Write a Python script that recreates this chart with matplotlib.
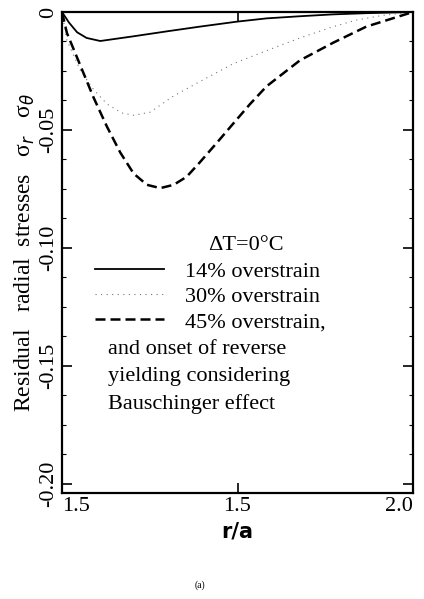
import matplotlib
matplotlib.use("Agg")
import matplotlib.pyplot as plt
from matplotlib.ticker import MultipleLocator

# ---- data ----
r_14 = [1.0, 1.02, 1.043, 1.07, 1.109, 1.204, 1.299, 1.393, 1.498, 1.583, 1.678, 1.773, 1.867, 2.0]
s_14 = [0.0, -0.0045, -0.0086, -0.0110, -0.0123, -0.0103, -0.0082, -0.0062, -0.0041, -0.0027, -0.0018, -0.0010, -0.0005, 0.0]

r_30 = [1.0, 1.014, 1.052, 1.090, 1.128, 1.17, 1.204, 1.251, 1.318, 1.393, 1.488, 1.583, 1.678, 1.773, 1.839, 1.915, 2.0]
s_30 = [0.0, -0.012, -0.0247, -0.0329, -0.039, -0.0428, -0.0438, -0.0425, -0.0356, -0.0295, -0.0219, -0.0164, -0.011, -0.0062, -0.0034, -0.0014, 0.0]

r_45 = [1.0, 1.014, 1.052, 1.090, 1.128, 1.166, 1.204, 1.242, 1.280, 1.318, 1.355, 1.393, 1.441, 1.488, 1.536, 1.583, 1.678, 1.773, 1.867, 2.0]
s_45 = [0.0, -0.0089, -0.0226, -0.0363, -0.0486, -0.0596, -0.0685, -0.0733, -0.0747, -0.0733, -0.0699, -0.0637, -0.0555, -0.0473, -0.039, -0.0315, -0.0205, -0.013, -0.0062, 0.0]

x_ticks = [1.0, 1.5, 2.0]
x_tick_labels = ["1.5", "1.5", "2.0"]
y_ticks = [0.0, -0.05, -0.10, -0.15, -0.20]
y_tick_labels = ["0", "-0.05", "-0.10", "-0.15", "-0.20"]

legend_title = "ΔT=0°C"
legend_labels = ["14% overstrain", "30% overstrain", "45% overstrain,"]
legend_extra = ["and onset of reverse", "yielding considering", "Bauschinger effect"]

serif = ["Liberation Serif", "DejaVu Serif"]

fig = plt.figure(figsize=(4.24, 5.99), dpi=100)
ax = fig.add_axes([62/424, 1-493/599, (413-62)/424, (493-12)/599])

l1, = ax.plot(r_14, s_14, color="black", lw=1.3)
l2, = ax.plot(r_30, s_30, color="#777777", lw=0.8, linestyle=(0, (1, 4)))
l3, = ax.plot(r_45, s_45, color="black", lw=1.8, linestyle=(0, (4, 2)))

ax.set_xlim(1.0, 2.0)
ax.set_ylim(-0.204, 0.0)

ax.set_xticks(x_ticks)
ax.set_xticklabels(x_tick_labels, fontsize=16, family=serif)
ax.set_yticks(y_ticks)
ax.set_yticklabels(y_tick_labels, fontsize=16, family=serif, rotation=90, va="center")
ax.yaxis.set_minor_locator(MultipleLocator(0.0125))
xl = ax.get_xticklabels()
xl[0].set_ha("left")
xl[-1].set_ha("right")

ax.tick_params(which="both", direction="in", top=True, right=True)
ax.tick_params(which="major", length=7, width=1.2, pad=3)
ax.tick_params(which="minor", length=3, width=0.8)
ax.tick_params(axis="x", which="minor", bottom=False, top=False)

for sp in ax.spines.values():
    sp.set_linewidth(1.6)

ax.set_xlabel("r/a", fontsize=15, fontweight="bold", family=["DejaVu Sans"], labelpad=4)
ax.set_ylabel("Residual   radial  stresses   σ$_r$   σ$_θ$", fontsize=17, family=serif, labelpad=1)

leg = ax.legend([l1, l2, l3], legend_labels, frameon=False,
                loc="upper left", bbox_to_anchor=(0.094, 0.481),
                prop={"family": serif, "size": 16},
                handlelength=3.1, handletextpad=0.95, labelspacing=0.2, borderaxespad=0,
                borderpad=0)

ax.text(0.524, 0.515, legend_title, transform=ax.transAxes, fontsize=16, family=serif,
        ha="center", va="center")

for i, t in enumerate(legend_extra):
    ax.text(0.13, 0.299 - i*0.057, t, transform=ax.transAxes, fontsize=16, family=serif,
            va="center", ha="left")

fig.text(200/424, 1-585/599, "(a)", fontsize=7, family=serif, ha="center", va="center")

fig.savefig("out.png", dpi=100)
